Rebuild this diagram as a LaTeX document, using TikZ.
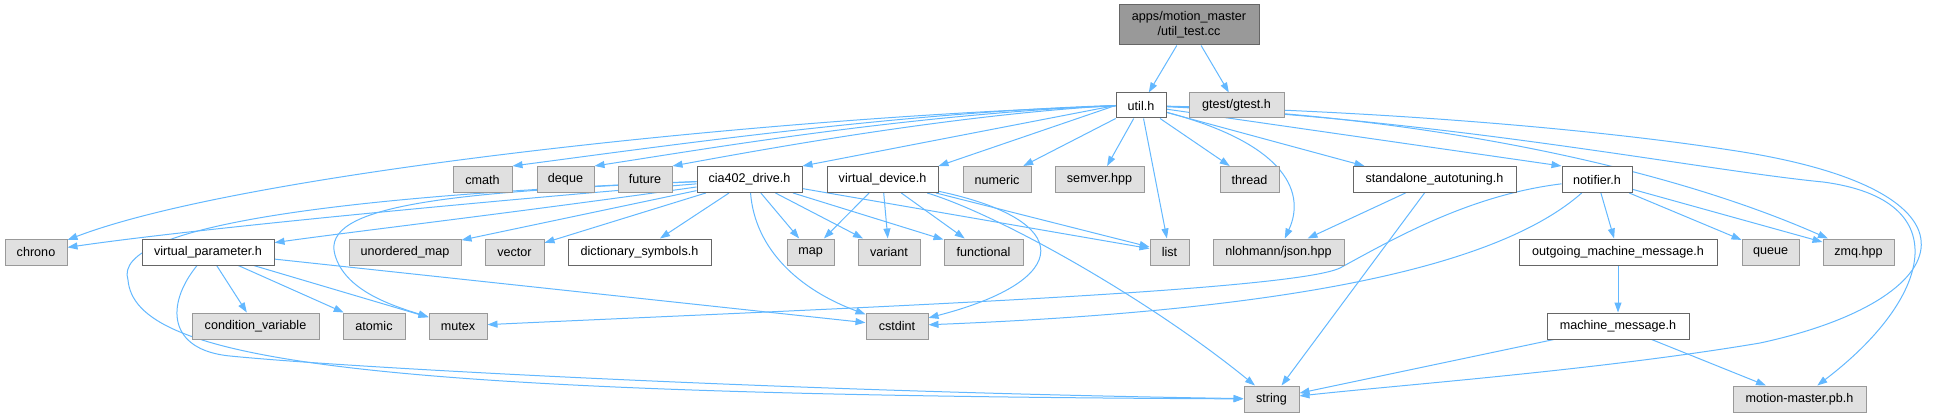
\documentclass[tikz,border=0pt]{standalone}
\usepackage{fontspec}
\setmainfont{Liberation Sans}
\usetikzlibrary{arrows.meta}
\definecolor{edgeblue}{HTML}{63B8FF}
\definecolor{sysfill}{HTML}{E0E0E0}
\definecolor{sysline}{HTML}{999999}
\definecolor{hdrline}{HTML}{666666}
\definecolor{rootfill}{HTML}{999999}
\pgfdeclarelayer{edges}
\pgfsetlayers{edges,main}
\tikzstyle{incl} = [draw=edgeblue, line width=1pt, -{Triangle[length=10pt,width=7pt]}]
\tikzstyle{sys} = [draw=sysline, fill=sysfill, line width=1pt, minimum height=26pt, inner sep=0pt, font=\fontsize{12.6}{15}\selectfont]
\tikzstyle{hdr} = [sys, draw=hdrline, fill=white]
\tikzstyle{root} = [sys, draw=hdrline, fill=rootfill, align=center]

\begin{document}
\begin{tikzpicture}[x=1pt, y=-1pt]
\useasboundingbox (0,0) rectangle (1938,417);

\node[root, minimum width=140, minimum height=40] (root) at (1189,25) {apps/motion\_master\\/util\_test.cc};
\node[hdr, minimum width=50, minimum height=25] (util) at (1141,105.5) {util.h};
\node[sys, minimum width=95, minimum height=25] (gtest) at (1236.5,105.5) {gtest/gtest.h};

\node[hdr, minimum width=105] (cia402) at (749.5,179.5) {cia402\_drive.h};
\node[hdr, minimum width=111] (vdev) at (882.5,179.5) {virtual\_device.h};
\node[hdr, minimum width=163] (standalone) at (1434.5,179.5) {standalone\_autotuning.h};
\node[hdr, minimum width=70] (notifier) at (1597,179.5) {notifier.h};
\node[hdr, minimum width=132] (vparam) at (208,252) {virtual\_parameter.h};
\node[hdr, minimum width=143] (dict) at (639.5,252) {dictionary\_symbols.h};
\node[hdr, minimum width=198] (outgoing) at (1618,252) {outgoing\_machine\_message.h};
\node[hdr, minimum width=142] (machmsg) at (1618,326) {machine\_message.h};
\node[sys, minimum width=131] (json) at (1278.5,252) {nlohmann/json.hpp};

\foreach \nm/\txt/\x/\y/\w in {cmath/cmath/482.5/179.5/59, deque/deque/565.5/179.5/57,
  future/future/645/179.5/54, numeric/numeric/997/179.5/68, semver/semver.hpp/1099.5/179.5/89,
  thread/thread/1249.5/179.5/59, chrono/chrono/36/252/62, umap/unordered\_map/405/252/112,
  vector/vector/514.5/252/59, map/map/810.5/252/47, variant/variant/889/252/62,
  functional/functional/983.5/252/79, list/list/1169.5/252/39, queue/queue/1770.5/252/57,
  zmq/zmq.hpp/1858.5/252/71, condvar/condition\_variable/255.5/326/127, atomic/atomic/374/326/62,
  mutex/mutex/458/326/58, cstdint/cstdint/897/326/62, string/string/1271.5/399/55,
  pb/motion-master.pb.h/1799.5/399/133}
{
 \node[sys, minimum width=\w] (\nm) at (\x,\y) {\txt};
}

\begin{pgfonlayer}{edges}
% test file
\draw[incl] (root) -- (util);
\draw[incl] (root) -- (gtest);

% util.h
\draw[incl] (util) .. controls (800,115) and (250,170) .. (chrono);
\draw[incl] (util.west) .. controls (900,112) and (650,148) .. (cmath.north east);
\draw[incl] (util.west) .. controls (900,115) and (700,150) .. (deque.north east);
\draw[incl] (util.west) .. controls (950,115) and (760,150) .. (future.north east);
\draw[incl] (util.west) -- (cia402.north east);
\draw[incl] (util.west) -- (vdev.north east);
\draw[incl] (util) -- (numeric);
\draw[incl] (util) -- (semver);
\draw[incl] (util) -- (list);
\draw[incl] (util) -- (thread);
\draw[incl] (util) .. controls (1290,145) and (1305,195) .. (json);
\draw[incl] (util) -- ([xshift=12pt]standalone.north west);
\draw[incl] (util) -- (notifier.north west);
\draw[incl] (util) .. controls (1400,115) and (1650,160) .. (zmq);
\draw[incl] (util) .. controls (1400,112) and (1600,130) .. (1730,150)
  .. controls (2000,190) and (1960,300) .. (1760,343)
  .. controls (1600,370) and (1400,385) .. (string);
\draw[incl] (util) .. controls (1450,120) and (1700,170) .. (1823,182)
  .. controls (1960,200) and (1930,300) .. (pb);

% cia402_drive.h
\draw[incl] (cia402) .. controls (500,200) and (200,228) .. (chrono);
\draw[incl] (cia402) .. controls (350,195) and (110,225) .. (128,280)
  .. controls (135,360) and (350,395) .. (string);
\draw[incl] (cia402) .. controls (520,212) and (350,232) .. (vparam);
\draw[incl] (cia402) .. controls (450,192) and (320,205) .. (335,255)
  .. controls (345,290) and (390,305) .. (mutex);
\draw[incl] (cia402) -- (umap);
\draw[incl] (cia402) -- (vector);
\draw[incl] (cia402) -- (dict);
\draw[incl] (cia402) -- (map);
\draw[incl] (cia402) -- (variant);
\draw[incl] (cia402) -- (functional);
\draw[incl] (cia402) -- (list);
\draw[incl] (cia402) .. controls (755,250) and (800,290) .. (cstdint);

% virtual_device.h
\draw[incl] (vdev) -- (map);
\draw[incl] (vdev) -- (variant);
\draw[incl] (vdev) -- (functional);
\draw[incl] (vdev) -- (list);
\draw[incl] (vdev) .. controls (1000,215) and (1150,300) .. (string);
\draw[incl] (vdev) .. controls (1075,220) and (1075,280) .. (cstdint);

% virtual_parameter.h
\draw[incl] (vparam) -- (condvar);
\draw[incl] (vparam) -- (atomic);
\draw[incl] (vparam) -- (mutex);
\draw[incl] (vparam) .. controls (165,305) and (168,350) .. (230,356)
  .. controls (350,368) and (800,392) .. (string);
\draw[incl] (vparam) -- (cstdint);

% standalone_autotuning.h
\draw[incl] (standalone) -- (json);
\draw[incl] (standalone) -- (string);

% notifier.h
\draw[incl] (notifier) .. controls (1470,195) and (1395,238) .. (1340,268)
  .. controls (1290,292) and (800,310) .. (mutex);
\draw[incl] (notifier) .. controls (1500,265) and (1300,310) .. (cstdint);
\draw[incl] (notifier) -- (outgoing);
\draw[incl] (notifier) -- (queue);
\draw[incl] (notifier) -- (zmq);

% messages
\draw[incl] (outgoing) -- (machmsg);
\draw[incl] (machmsg) -- (string);
\draw[incl] (machmsg) -- (pb);
\end{pgfonlayer}

\end{tikzpicture}
\end{document}
